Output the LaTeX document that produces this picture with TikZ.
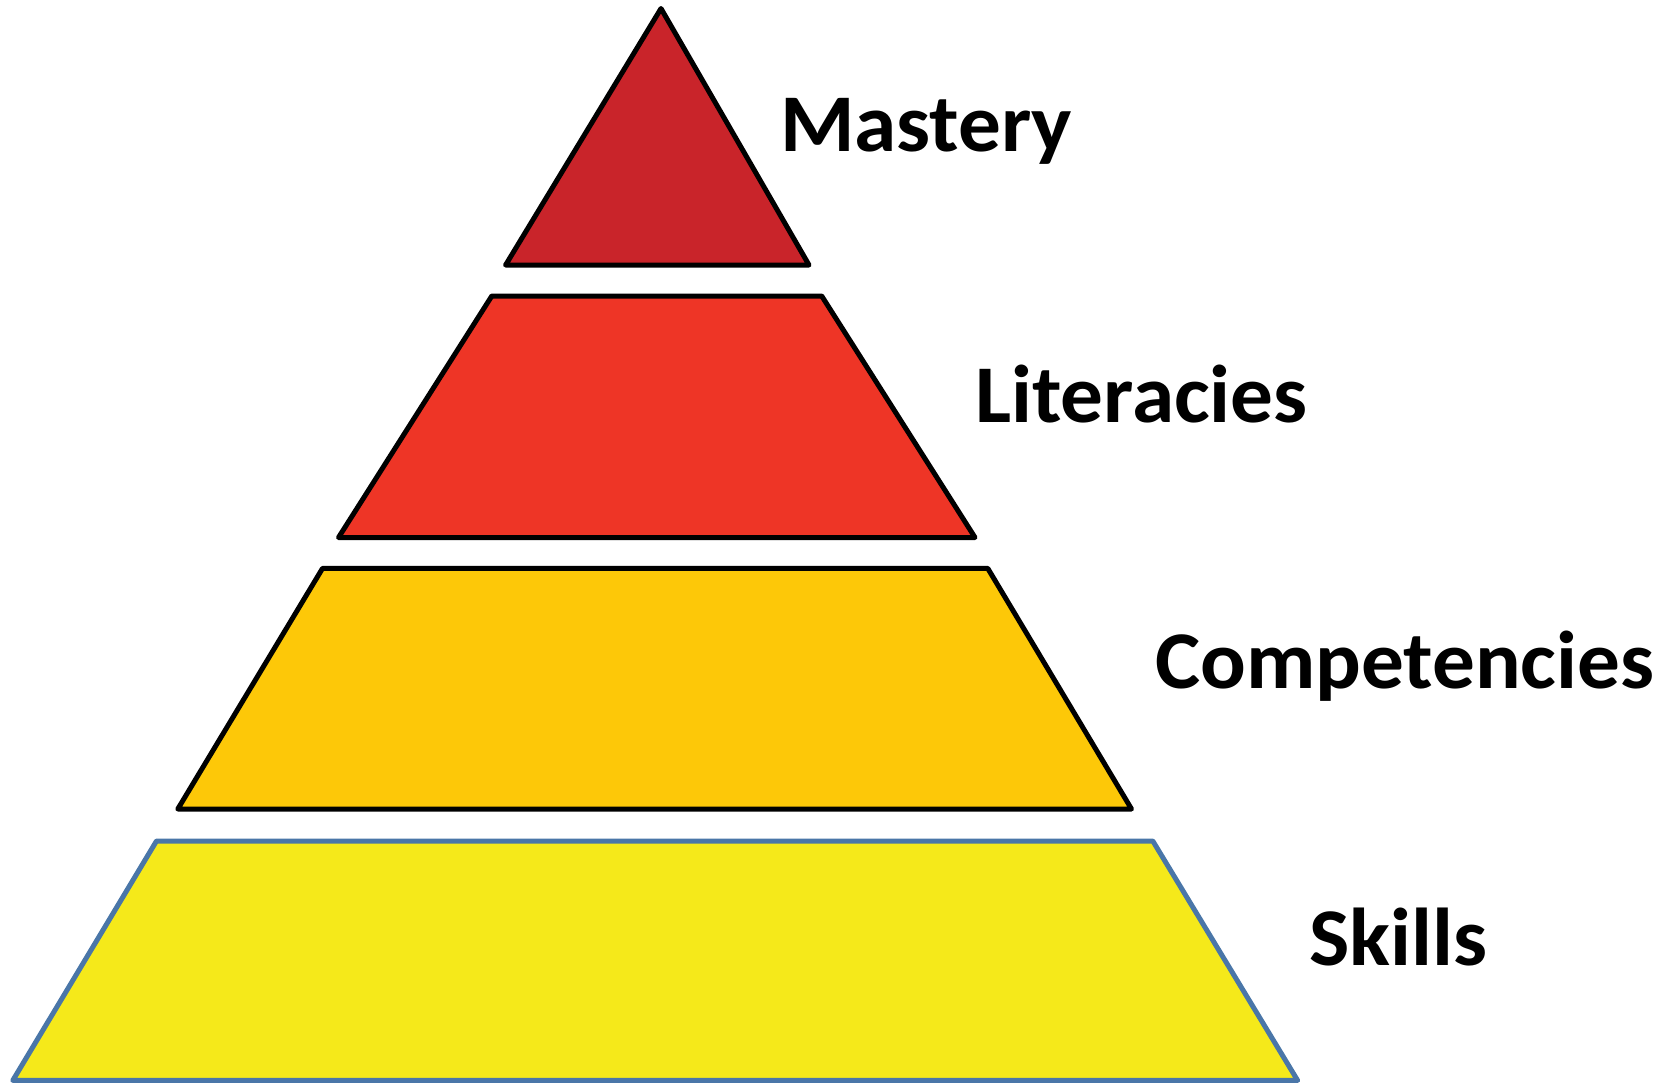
\documentclass[tikz,border=0pt]{standalone}
\usepackage{fontspec}
\setmainfont{Carlito}
\definecolor{mred}{HTML}{C9242A}
\definecolor{lred}{HTML}{EE3526}
\definecolor{corange}{HTML}{FDC808}
\definecolor{syellow}{HTML}{F5E91A}
\definecolor{sblue}{HTML}{4A76A8}
\begin{document}
\begin{tikzpicture}[x=1pt,y=-1pt,
  tier/.style={draw=black,line width=5pt,line join=round},
  lbl/.style={anchor=base west,inner sep=0pt,font=\fontsize{82}{90}\selectfont\bfseries,xscale=1.04,transform shape}]
\useasboundingbox (0,0) rectangle (1669,1084);
% Mastery
\coordinate (m1) at (661,8.5);
\coordinate (m2) at (809,265);
\coordinate (m3) at (505.6,265);
\draw[tier,fill=mred] (m1) -- (m2) -- (m3) -- cycle;
% Literacies
\coordinate (l1) at (491.8,296);
\coordinate (l2) at (821.7,296);
\coordinate (l3) at (975,537.5);
\coordinate (l4) at (338.5,537.5);
\draw[tier,fill=lred] (l1) -- (l2) -- (l3) -- (l4) -- cycle;
% Competencies
\coordinate (c1) at (322.5,568.4);
\coordinate (c2) at (987.8,568.4);
\coordinate (c3) at (1131.5,809);
\coordinate (c4) at (177.8,809);
\draw[tier,fill=corange] (c1) -- (c2) -- (c3) -- (c4) -- cycle;
% Skills
\coordinate (s1) at (156.5,841);
\coordinate (s2) at (1152.8,841);
\coordinate (s3) at (1297.6,1080.4);
\coordinate (s4) at (12.8,1080.4);
\draw[tier,draw=sblue,fill=syellow] (s1) -- (s2) -- (s3) -- (s4) -- cycle;
% labels
\node[lbl] (tm) at (780,151) {Mastery};
\node[lbl] (tl) at (975,422.6) {Literacies};
\node[lbl] (tc) at (1155,688.7) {Competencies};
\node[lbl] (ts) at (1309,965) {Skills};
\end{tikzpicture}
\end{document}
